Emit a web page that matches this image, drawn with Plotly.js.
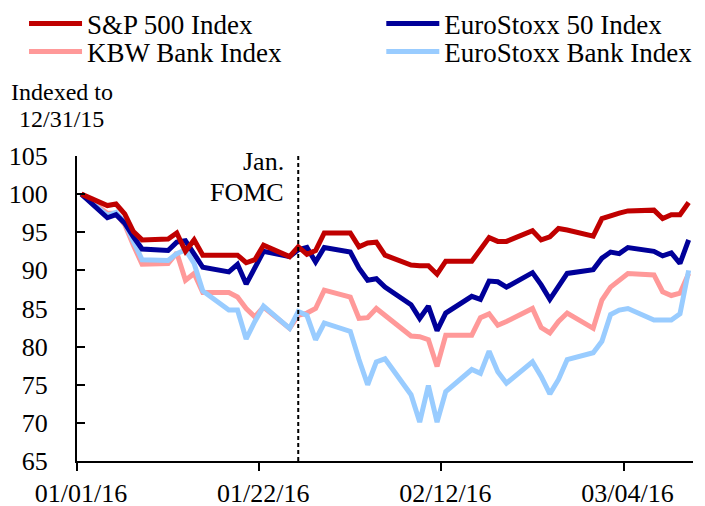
<!DOCTYPE html>
<html>
<head>
<meta charset="utf-8">
<script src="https://cdn.plot.ly/plotly-3.0.1.min.js"></script>
<style>html,body{margin:0;padding:0;background:#fff;}#chart{width:705px;height:506px;}</style>
</head>
<body>
<div id="chart"></div>
<script>
// Trading days (weekdays; holidays carried forward)
const dates = [
  '2016-01-01','2016-01-04','2016-01-05','2016-01-06','2016-01-07','2016-01-08',
  '2016-01-11','2016-01-12','2016-01-13','2016-01-14','2016-01-15',
  '2016-01-18','2016-01-19','2016-01-20','2016-01-21','2016-01-22',
  '2016-01-25','2016-01-26','2016-01-27','2016-01-28','2016-01-29',
  '2016-02-01','2016-02-02','2016-02-03','2016-02-04','2016-02-05',
  '2016-02-08','2016-02-09','2016-02-10','2016-02-11','2016-02-12',
  '2016-02-15','2016-02-16','2016-02-17','2016-02-18','2016-02-19',
  '2016-02-22','2016-02-23','2016-02-24','2016-02-25','2016-02-26',
  '2016-02-29','2016-03-01','2016-03-02','2016-03-03','2016-03-04',
  '2016-03-07','2016-03-08','2016-03-09','2016-03-10','2016-03-11'
];

const sp500 = [
  100, 98.5, 98.7, 97.4, 95.1, 94.0,
  94.1, 94.9, 92.5, 94.0, 92.0,
  92.0, 92.0, 91.0, 91.4, 93.3,
  91.8, 93.1, 92.1, 92.6, 94.9,
  94.9, 93.1, 93.6, 93.7, 92.0,
  90.7, 90.6, 90.6, 89.5, 91.2,
  91.2, 92.7, 94.3, 93.8, 93.8,
  95.2, 94.0, 94.4, 95.5, 95.3,
  94.5, 96.8, 97.2, 97.5, 97.8,
  97.9, 96.8, 97.3, 97.3, 98.9
];

const euroStoxx50 = [
  100, 96.9, 97.3, 96.2, 94.4, 92.8,
  92.6, 93.7, 93.9, 92.2, 90.4,
  89.8, 90.8, 88.2, 90.2, 92.5,
  91.8, 92.7, 93.0, 91.1, 93.0,
  92.4, 90.3, 88.7, 88.9, 87.8,
  85.5, 83.7, 85.3, 82.1, 84.4,
  86.6, 86.2, 88.6, 88.5, 87.8,
  89.7, 88.1, 86.2, 88.0, 89.6,
  90.1, 91.6, 92.4, 92.2, 93.0,
  92.5, 91.9, 92.3, 90.9, 94.0
];

const kbwBank = [
  100, 97.5, 97.5, 96.0, 93.3, 90.8,
  90.9, 92.3, 88.7, 89.6, 87.1,
  87.1, 86.5, 85.0, 83.9, 85.2,
  82.4, 84.1, 84.4, 85.0, 87.4,
  86.5, 83.7, 83.8, 85.0, 84.1,
  81.4, 81.3, 80.9, 77.4, 81.5,
  81.5, 83.8, 84.3, 82.8, 83.3,
  85.0, 82.5, 81.8, 83.3, 84.4,
  82.4, 86.1, 87.8, 88.8, 89.6,
  89.4, 87.2, 86.7, 87.0, 89.6
];

const euroStoxxBank = [
  100, 97.2, 97.6, 96.3, 93.8, 91.4,
  91.3, 92.2, 92.7, 90.9, 87.3,
  84.8, 84.8, 81.0, 83.3, 85.3,
  82.4, 84.6, 84.1, 80.9, 83.1,
  82.0, 78.3, 75.0, 78.0, 78.4,
  73.7, 70.1, 74.9, 70.1, 74.1,
  77.0, 76.5, 79.4, 76.7, 75.2,
  78.0, 76.1, 73.8, 75.7, 78.3,
  79.2, 80.7, 84.2, 84.8, 85.0,
  83.5, 83.5, 83.5, 84.3, 90.0
];

const seriesNames = ['S&P 500 Index', 'EuroStoxx 50 Index', 'KBW Bank Index', 'EuroStoxx Bank Index'];
const tickDates = ['2015-12-31 12:00', '2016-01-21 12:00', '2016-02-11 12:00', '2016-03-03 12:00'];
const tickLabels = ['01/01/16', '01/22/16', '02/12/16', '03/04/16'];
const xRange = ['2015-12-31 12:00', '2016-03-11 12:00'];
const fomcDate = '2016-01-26';
const fomcLabel = ['Jan.', 'FOMC'];
const unitLabel = ['Indexed to', '12/31/15'];

const FONT = 'serif';
const INK = '#000';

const traces = [
  {x: dates, y: kbwBank, name: seriesNames[2], legend: 'legend2', color: '#FF9999'},
  {x: dates, y: euroStoxxBank, name: seriesNames[3], legend: 'legend4', color: '#99CCFF'},
  {x: dates, y: euroStoxx50, name: seriesNames[1], legend: 'legend3', color: '#000099'},
  {x: dates, y: sp500, name: seriesNames[0], legend: 'legend', color: '#C00000'}
].map(s => ({
  type: 'scatter', mode: 'lines', x: s.x, y: s.y, name: s.name, legend: s.legend,
  line: {color: s.color, width: 5}, hoverinfo: 'skip'
}));

function legendAt(x, y) {
  return {
    x: x, y: y, xanchor: 'left', yanchor: 'middle', xref: 'paper', yref: 'paper',
    bgcolor: 'rgba(0,0,0,0)', borderwidth: 0, itemwidth: 53,
    font: {family: FONT, size: 27, color: INK}
  };
}

const layout = {
  width: 705, height: 506,
  margin: {l: 77, r: 12, t: 156, b: 45, pad: 0, autoexpand: false},
  paper_bgcolor: '#fff', plot_bgcolor: '#fff',
  showlegend: true,
  legend: legendAt(-0.086, 1.433),
  legend2: legendAt(-0.086, 1.341),
  legend3: legendAt(0.494, 1.433),
  legend4: legendAt(0.494, 1.341),
  xaxis: {
    type: 'date', range: xRange,
    tickmode: 'array', tickvals: tickDates, ticktext: tickLabels,
    ticks: 'outside', ticklen: 8, tickwidth: 2, tickcolor: INK,
    ticklabelshift: 4, ticklabelstandoff: 0,
    showline: true, linewidth: 2, linecolor: INK,
    showgrid: false, zeroline: false,
    tickfont: {family: FONT, size: 26, color: INK}
  },
  yaxis: {
    range: [65, 105], tick0: 65, dtick: 5,
    ticks: 'inside', ticklen: 8, tickwidth: 2, tickcolor: INK,
    ticklabelstandoff: 22,
    showline: true, linewidth: 2, linecolor: INK,
    showgrid: false, zeroline: false,
    tickfont: {family: FONT, size: 26, color: INK}
  },
  shapes: [{
    type: 'line', xref: 'x', yref: 'paper', x0: fomcDate, x1: fomcDate, y0: 0, y1: 1,
    line: {color: INK, width: 2, dash: '4px,3px'}
  }],
  annotations: [
    {text: fomcLabel[0], xref: 'x', yref: 'paper', x: fomcDate, y: 0.9807, xanchor: 'right', yanchor: 'middle', xshift: -12, align: 'right', showarrow: false, font: {family: FONT, size: 26, color: INK}},
    {text: fomcLabel[1], xref: 'x', yref: 'paper', x: fomcDate, y: 0.879, xanchor: 'right', yanchor: 'middle', xshift: -12, align: 'right', showarrow: false, font: {family: FONT, size: 26, color: INK}},
    {text: unitLabel[0], xref: 'paper', yref: 'paper', x: -0.0244, y: 1.2102, xanchor: 'center', yanchor: 'middle', showarrow: false, font: {family: FONT, size: 24, color: INK}},
    {text: unitLabel[1], xref: 'paper', yref: 'paper', x: -0.0244, y: 1.1216, xanchor: 'center', yanchor: 'middle', showarrow: false, font: {family: FONT, size: 24, color: INK}}
  ]
};

Plotly.newPlot('chart', traces, layout, {displayModeBar: false, staticPlot: true});
</script>
</body>
</html>
